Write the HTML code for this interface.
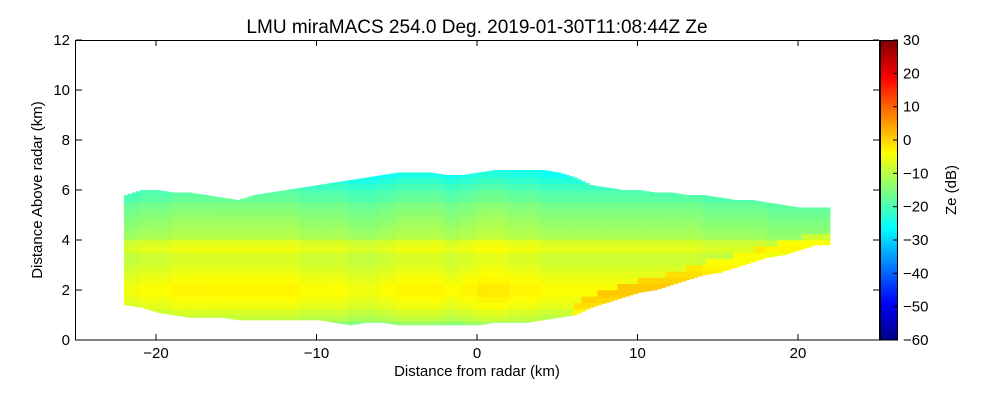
<!DOCTYPE html>
<html><head><meta charset="utf-8"><style>
body{margin:0;background:#fff;font-family:"Liberation Sans","DejaVu Sans",sans-serif;}
svg text{font-family:"Liberation Sans","DejaVu Sans",sans-serif;fill:#000;}
</style></head><body>
<svg id="chart" width="1000" height="400">
<text x="477" y="33" font-size="19" text-anchor="middle">LMU miraMACS 254.0 Deg. 2019-01-30T11:08:44Z  Ze</text>
<g id="cells"></g>
<rect x="75.5" y="40.5" width="804" height="299.5" fill="none" stroke="#000"/>
<g id="axes"></g>
<text x="477" y="376" font-size="15" text-anchor="middle">Distance from radar (km)</text>
<text transform="translate(42,190) rotate(-90)" font-size="15" text-anchor="middle">Distance Above radar  (km)</text>
<g id="cbar"></g>
<text transform="translate(956,190) rotate(-90)" font-size="15" text-anchor="middle">Ze (dB)</text>
</svg>
<script>
const colStarts=[-22,-21,-20,-19,-18,-17,-16,-15,-14,-13,-12,-11,-10,-9,-8,-7,-6,-5,-4,-3,-2,-1,0,1,2,3,4,5,6,7,8,9,10,11,12,13,14,15,16,17,18,19,20,21];
const topKm=[5.8,6.0,6.0,5.9,5.9,5.8,5.7,5.6,5.8,5.9,6.0,6.1,6.2,6.3,6.4,6.5,6.6,6.7,6.7,6.7,6.6,6.6,6.7,6.8,6.8,6.8,6.8,6.7,6.5,6.2,6.1,6.0,6.0,5.9,5.9,5.8,5.8,5.7,5.6,5.6,5.5,5.4,5.3,5.3];
const bottomKm=[1.4,1.3,1.1,1.0,0.9,0.9,0.9,0.8,0.8,0.8,0.8,0.8,0.8,0.7,0.6,0.7,0.7,0.6,0.6,0.6,0.6,0.6,0.6,0.7,0.7,0.7,0.8,0.9,1.0,1.3,1.5,1.7,1.9,2.0,2.2,2.4,2.6,2.7,2.9,3.1,3.3,3.4,3.6,3.8];
const rowZe=[-22,-18,-14,-10,-8,-6,-5,-4,-4,-5,-6,-7,-8,-8,-6,-7,-11,-12,-13,-14,-15,-16,-18,-19,-21,-23,-25,-26];
const colAdj=[-1,0,0,1,1,1,1,1,1,1,1,0,0,0,-1,-1,0,1,1,1,0,1,2,2,1,1,0,0,0,0,0,0,0,0,0,0,-1,-1,-1,-1,-2,-2,-2,-2];
const xTicks=[-20,-10,0,10,20], yTicks=[0,2,4,6,8,10,12], cTicks=[-60,-50,-40,-30,-20,-10,0,10,20,30];
const X=v=>477+v*16.05, Y=v=>340-v*25, CY=v=>340-(v+60)/90*300;
function jet(v){let t=Math.max(0,Math.min(1,(v+60)/90));
 const f=c=>Math.round(255*Math.max(0,Math.min(1,1.5-Math.abs(4*t-c))));
 return `rgb(${f(3)},${f(2)},${f(1)})`;}
const NS='http://www.w3.org/2000/svg';
function mk(t,a,p){const e=document.createElementNS(NS,t);for(const k in a)e.setAttribute(k,a[k]);p.appendChild(e);return e;}
const cells=document.getElementById('cells');
colStarts.forEach((x0,i)=>{
 for(let s=0;s<4;s++){
  const fr=s/4, nx=Math.min(i+1,colStarts.length-1);
  const top=topKm[i]+(topKm[nx]-topKm[i])*fr, bot=bottomKm[i]+(bottomKm[nx]-bottomKm[i])*fr;
  rowZe.forEach((z,r)=>{
   const y0=r*0.25,y1=y0+0.25;
   const a=Math.max(y0,bot), b=Math.min(y1,top); if(b<=a) return;
   let v=z+colAdj[i]; if(x0>=6 && a<bot+0.4) v+=5;
   const el=mk('rect',{x:X(x0+fr),y:Y(b),width:16.05/4+0.3,height:(b-a)*25+0.3,fill:jet(v)},cells);
   
   
  });
 }
});
const ax=document.getElementById('axes');
xTicks.forEach(t=>{mk('line',{x1:X(t),x2:X(t),y1:340,y2:334,stroke:'#000'},ax);mk('line',{x1:X(t),x2:X(t),y1:40,y2:46,stroke:'#000'},ax);
 const tx=mk('text',{x:X(t),y:358,'font-size':15,'text-anchor':'middle'},ax);tx.textContent=(t<0?'\u2212'+(-t):t);
 
 });
yTicks.forEach(t=>{mk('line',{x1:76,x2:82,y1:Y(t),y2:Y(t),stroke:'#000'},ax);mk('line',{x1:879,x2:873,y1:Y(t),y2:Y(t),stroke:'#000'},ax);
 const tx=mk('text',{x:70,y:Y(t)+5,'font-size':15,'text-anchor':'end'},ax);tx.textContent=t;
 
 });
const cb=document.getElementById('cbar');
for(let v=-60;v<30;v+=0.5){mk('rect',{x:880,y:CY(v+0.5),width:18,height:300/180+0.4,fill:jet(v+0.25)},cb);}
mk('rect',{x:880.5,y:40.5,width:17,height:299.5,fill:'none',stroke:'#000'},cb);
cTicks.forEach(t=>{mk('line',{x1:893,x2:898,y1:CY(t),y2:CY(t),stroke:'#000'},cb);
 const tx=mk('text',{x:903,y:CY(t)+5,'font-size':15},cb);tx.textContent=(t<0?'\u2212'+(-t):t);
 
 });
</script>
</body></html>
